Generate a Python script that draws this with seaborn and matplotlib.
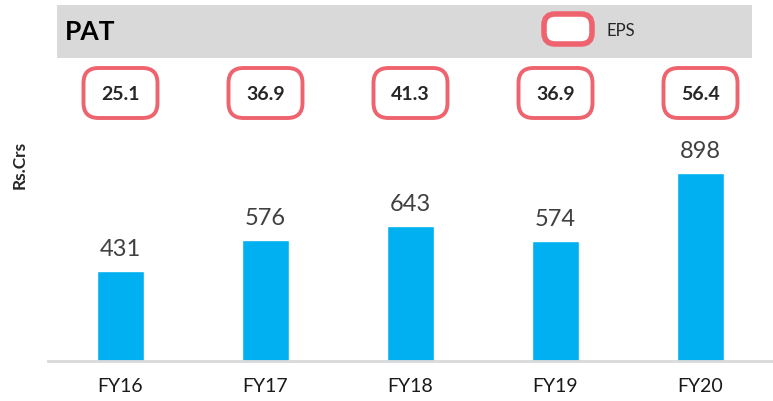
import matplotlib
matplotlib.use("Agg")
import matplotlib.pyplot as plt
import seaborn as sns
import pandas as pd
from matplotlib.patches import FancyBboxPatch, Rectangle
from matplotlib.transforms import IdentityTransform

# data
years = ["FY16", "FY17", "FY18", "FY19", "FY20"]
pat = [431, 576, 643, 574, 898]
eps = ["25.1", "36.9", "41.3", "36.9", "56.4"]

df = pd.DataFrame({"Year": years, "PAT": pat})

sns.set_style("white")
plt.rcParams["font.family"] = ["Lato", "DejaVu Sans"]

W, H = 773, 401
fig = plt.figure(figsize=(W / 100, H / 100), dpi=100)
ax = fig.add_axes([48 / W, 40 / H, 725 / W, 361 / H])
ax.patch.set_visible(False)

sns.barplot(data=df, x="Year", y="PAT", color="#00b0f0", width=0.32,
            saturation=1, ax=ax)
ax.set_xlim(-0.5, 4.5)
ax.set_ylim(0, 1724)
ax.bar_label(ax.containers[0], padding=8, fontsize=17, color="#404040")

for s in ["top", "right", "left"]:
    ax.spines[s].set_visible(False)
ax.spines["bottom"].set_color("#d9d9d9")
ax.spines["bottom"].set_linewidth(2)
ax.set_yticks([])
ax.set_xlabel("")
ax.set_ylabel("")
ax.tick_params(axis="x", length=0, pad=12, labelsize=14, labelcolor="#1a1a1a")

# y label
fig.text(20 / W, 1 - 165 / H, "Rs.Crs", rotation=90, ha="center", va="center",
         fontsize=12.5, fontweight="bold")

# header band
fig.add_artist(Rectangle((57 / W, 1 - 58 / H), (752 - 57) / W, 53 / H,
                         transform=fig.transFigure, facecolor="#d9d9d9",
                         edgecolor="none", zorder=0))
fig.text(65 / W, 1 - 32 / H, "PAT", ha="left", va="center", fontsize=19,
         fontweight="bold", color="black")

red = "#ef636e"
# legend marker
fig.add_artist(FancyBboxPatch((544, H - 44), 48, 30,
                              boxstyle="round,pad=0,rounding_size=11",
                              transform=IdentityTransform(), facecolor="white",
                              edgecolor=red, linewidth=4))
fig.text(607 / W, 1 - 31 / H, "EPS", ha="left", va="center", fontsize=12)

# EPS boxes above each bar
for i, v in enumerate(eps):
    xc = ax.transData.transform((i, 0))[0]
    fig.add_artist(FancyBboxPatch((xc - 37, H - 118), 74, 50,
                                  boxstyle="round,pad=0,rounding_size=15",
                                  transform=IdentityTransform(),
                                  facecolor="white", edgecolor=red,
                                  linewidth=2.8))
    fig.text(xc / W, 1 - 94 / H, v, ha="center", va="center", fontsize=14,
             fontweight="bold")

fig.savefig("out.png", dpi=100)
